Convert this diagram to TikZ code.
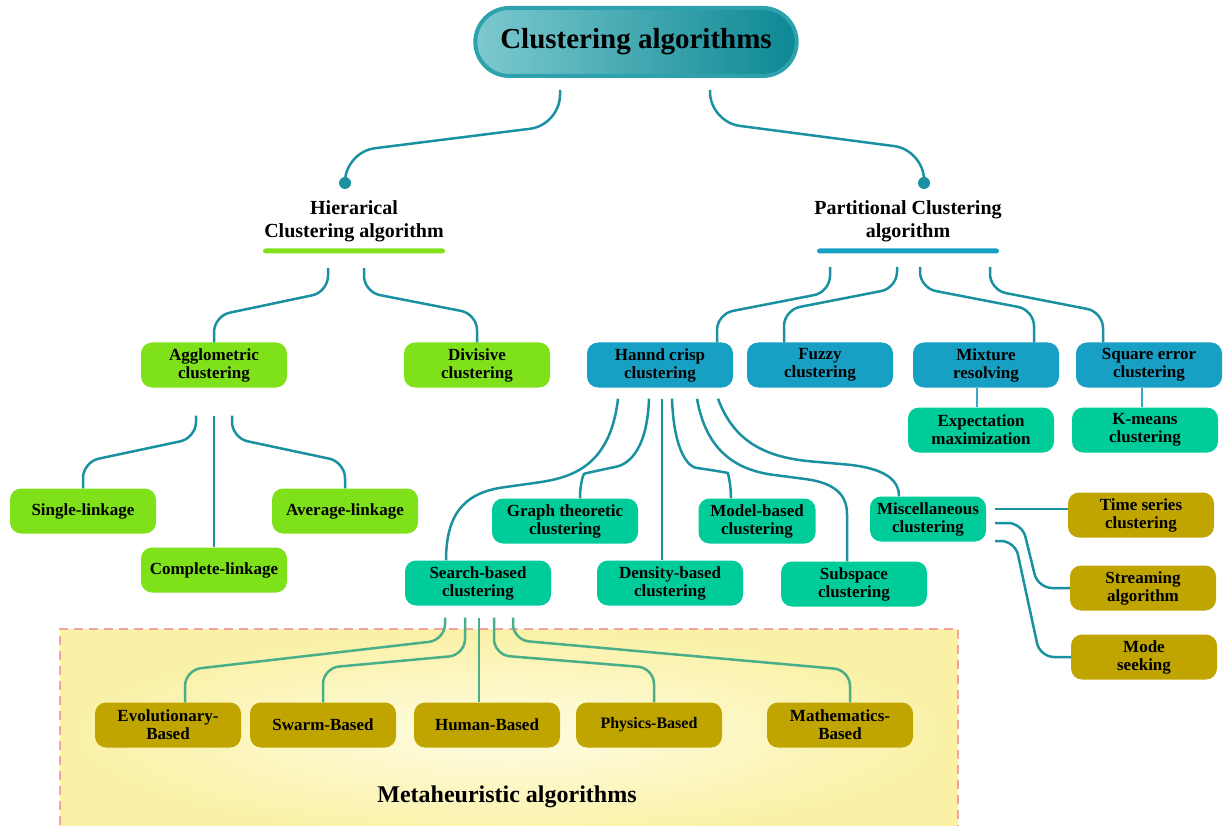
\documentclass[tikz,border=0pt]{standalone}
\usepackage{fontspec}
\setmainfont{Liberation Serif}
\usepackage{xcolor}
\usepackage{tikz}
\usetikzlibrary{shapes.misc,positioning,calc}

\definecolor{hiegreen}{HTML}{7FE11A}
\definecolor{partblue}{HTML}{18A0C4}
\definecolor{mint}{HTML}{00CC9A}
\definecolor{ochre}{HTML}{C0A500}
\definecolor{linkteal}{HTML}{1A91A1}
\definecolor{sublinkblue}{HTML}{3AA7CA}
\definecolor{metalinkgreen}{HTML}{4AAE88}
\definecolor{metafill}{HTML}{FAF1A6}
\definecolor{metalight}{HTML}{FEFCE2}
\definecolor{dashpink}{HTML}{F3A3A0}
\definecolor{titlelight}{HTML}{7DC9CF}
\definecolor{titledark}{HTML}{0C8894}
\definecolor{titleedge}{HTML}{2EA2AC}

\tikzset{
  box/.style={rounded corners=11pt, minimum width=146pt, minimum height=45pt,
    inner sep=0pt, align=center, font=\bfseries\fontsize{17}{18}\selectfont},
  hbox/.style={box, fill=hiegreen},
  pbox/.style={box, fill=partblue},
  cbox/.style={box, fill=mint},
  obox/.style={box, fill=ochre},
  link/.style={draw=linkteal, line width=2.5pt, rounded corners=16pt},
  sublink/.style={draw=sublinkblue, line width=2pt},
  mlink/.style={draw=metalinkgreen, line width=2.5pt, rounded corners=16pt},
  dot/.style={circle, fill=linkteal, inner sep=0pt, minimum size=12pt},
  bar/.style={rounded corners=2.5pt, minimum width=182pt, minimum height=5pt, inner sep=0pt},
  heading/.style={align=center, font=\bfseries\fontsize{20}{23}\selectfont}
}

\begin{document}
\begin{tikzpicture}[x=1pt, y=-1pt]
    \useasboundingbox (0,0) rectangle (1224,826);

    % Metaheuristic panel
    \fill[inner color=metalight, outer color=metafill] (60,629) rectangle (958,840);
    \draw[dashpink, line width=1.5pt, dash pattern=on 9pt off 6pt] (60,840) -- (60,629) -- (958,629) -- (958,840);

    % Root
    \node[rounded rectangle, minimum width=328pt, minimum height=68pt,
      left color=titlelight, right color=titledark, draw=titleedge, line width=4pt,
      font=\bfseries\fontsize{29}{31}\selectfont] (title) at (636,42) {Clustering algorithms};

    % Two families
    \node[dot] (hdot) at (345,183) {};
    \node[dot] (pdot) at (924,183) {};
    \node[heading] (hier) at (354,221) {Hierarical\\Clustering algorithm};
    \node[heading] (part) at (908,221) {Partitional Clustering\\algorithm};
    \node[bar, fill=hiegreen] (hbar) at (354,251) {};
    \node[bar, fill=partblue] (pbar) at (908,251) {};

    \draw[link, rounded corners=30pt] ([xshift=-76pt,yshift=-12pt]title.south) -- (560,125) -- (345,152) -- (hdot);
    \draw[link, rounded corners=30pt] ([xshift=74pt,yshift=-12pt]title.south) -- (710,122) -- (924,150) -- (pdot);

    % Hierarical branch
    \node[hbox] (agg) at (214,365) {Agglometric\\clustering};
    \node[hbox] (div) at (477,365) {Divisive\\clustering};
    \node[hbox] (single) at (83,511) {Single-linkage};
    \node[hbox] (complete) at (214,570) {Complete-linkage};
    \node[hbox] (average) at (345,511) {Average-linkage};

    \draw[link] ([xshift=-26pt,yshift=-17pt]hbar.center) -- (328,292) -- (214,316) -- (agg);
    \draw[link] ([xshift=10pt,yshift=-17pt]hbar.center) -- (364,292) -- (477,314) -- (div);
    \draw[link] ([xshift=-18pt,yshift=-28pt]agg.south) -- (196,438) -- (83,462) -- (single);
    \draw[link] ([yshift=-28pt]agg.south) -- (complete);
    \draw[link] ([xshift=18pt,yshift=-28pt]agg.south) -- (232,438) -- (345,462) -- (average);

    % Partitional branch
    \node[pbox] (crisp) at (660,365) {Hannd crisp\\clustering};
    \node[pbox] (fuzzy) at (820,365) {Fuzzy\\clustering};
    \node[pbox] (mix) at (986,365) {Mixture\\resolving};
    \node[pbox] (sqerr) at (1149,365) {Square error\\clustering};
    \node[cbox] (em) at (981,430) {Expectation\\maximization};
    \node[cbox] (kmeans) at (1145,430) {K-means\\clustering};

    \draw[link] ([xshift=-78pt,yshift=-16pt]pbar.center) -- (830,292) -- (717,314) -- ([xshift=57pt]crisp.north);
    \draw[link] ([xshift=-11pt,yshift=-16pt]pbar.center) -- (897,288) -- (784,310) -- ([xshift=-36pt]fuzzy.north);
    \draw[link] ([xshift=12pt,yshift=-16pt]pbar.center) -- (920,288) -- (1034,310) -- ([xshift=48pt]mix.north);
    \draw[link] ([xshift=82pt,yshift=-16pt]pbar.center) -- (990,290) -- (1103,312) -- ([xshift=-46pt]sqerr.north);
    \draw[sublink] ([xshift=-4pt]em.north) -- ([xshift=-4pt]em.north |- mix.south);
    \draw[sublink] ([xshift=-3pt]kmeans.north) -- ([xshift=-3pt]kmeans.north |- sqerr.south);

    % Hard crisp children
    \node[cbox] (graph) at (565,521) {Graph theoretic\\clustering};
    \node[cbox, minimum width=117pt] (model) at (757,521) {Model-based\\clustering};
    \node[cbox, minimum width=116pt] (misc) at (928,519) {Miscellaneous\\clustering};
    \node[cbox] (search) at (478,583) {Search-based\\clustering};
    \node[cbox] (density) at (670,583) {Density-based\\clustering};
    \node[cbox] (subspace) at (854,584) {Subspace\\clustering};

    \draw[link] ([xshift=-42pt,yshift=-11pt]crisp.south) .. controls (610,468) and (570,478) .. (520,485)
      .. controls (470,492) and (446,508) .. ([xshift=-32pt]search.north);
    \draw[link] ([xshift=-11pt,yshift=-11pt]crisp.south) .. controls (647,455) and (625,465) .. (600,470)
      .. controls (583,474) and (580,485) .. ([xshift=15pt]graph.north);
    \draw[link] ([xshift=2pt,yshift=-11pt]crisp.south) -- ([xshift=-8pt]density.north);
    \draw[link] ([xshift=12pt,yshift=-11pt]crisp.south) .. controls (674,455) and (690,467) .. (712,470)
      .. controls (728,473) and (731,485) .. ([xshift=-26pt]model.north);
    \draw[link] ([xshift=37pt,yshift=-11pt]crisp.south) .. controls (706,450) and (735,470) .. (790,477)
      .. controls (835,483) and (847,495) .. (847,530) -- ([xshift=-7pt]subspace.north);
    \draw[link] ([xshift=58pt,yshift=-11pt]crisp.south) .. controls (735,445) and (770,458) .. (830,463)
      .. controls (885,468) and (899,480) .. ([xshift=-29pt]misc.north);

    % Miscellaneous children
    \node[obox] (timeser) at (1141,515) {Time series\\clustering};
    \node[obox] (stream) at (1143,588) {Streaming\\algorithm};
    \node[obox] (mode) at (1144,657) {Mode\\seeking};

    \draw[link] ([xshift=9pt,yshift=10pt]misc.east) -- ([yshift=6pt]timeser.west);
    \draw[link, rounded corners=14pt] ([xshift=9pt,yshift=-4pt]misc.east) -- (1022,523) -- (1038,588) -- (stream.west);
    \draw[link, rounded corners=14pt] ([xshift=9pt,yshift=-22pt]misc.east) -- (1015,541) -- (1040,657) -- (mode.west);

    % Metaheuristic algorithms
    \node[obox] (evo) at (168,725) {Evolutionary-\\Based};
    \node[obox] (swarm) at (323,725) {Swarm-Based};
    \node[obox] (human) at (487,725) {Human-Based};
    \node[obox, font=\bfseries\fontsize{16}{18}\selectfont] (phys) at (649,725) {Physics-Based};
    \node[obox] (math) at (840,725) {Mathematics-\\Based};
    \node[font=\bfseries\fontsize{24}{26}\selectfont] (meta) at (507,797) {Metaheuristic algorithms};

    \draw[mlink] ([xshift=-33pt,yshift=-12pt]search.south) -- (445,640) -- (185,670) -- ([xshift=17pt]evo.north);
    \draw[mlink] ([xshift=-13pt,yshift=-12pt]search.south) -- (465,655) -- (323,668) -- (swarm);
    \draw[mlink] ([xshift=1pt,yshift=-12pt]search.south) -- ([xshift=-8pt]human.north);
    \draw[mlink] ([xshift=16pt,yshift=-12pt]search.south) -- (494,655) -- (654,668) -- ([xshift=5pt]phys.north);
    \draw[mlink] ([xshift=35pt,yshift=-12pt]search.south) -- (513,640) -- (850,670) -- ([xshift=10pt]math.north);
\end{tikzpicture}
\end{document}
